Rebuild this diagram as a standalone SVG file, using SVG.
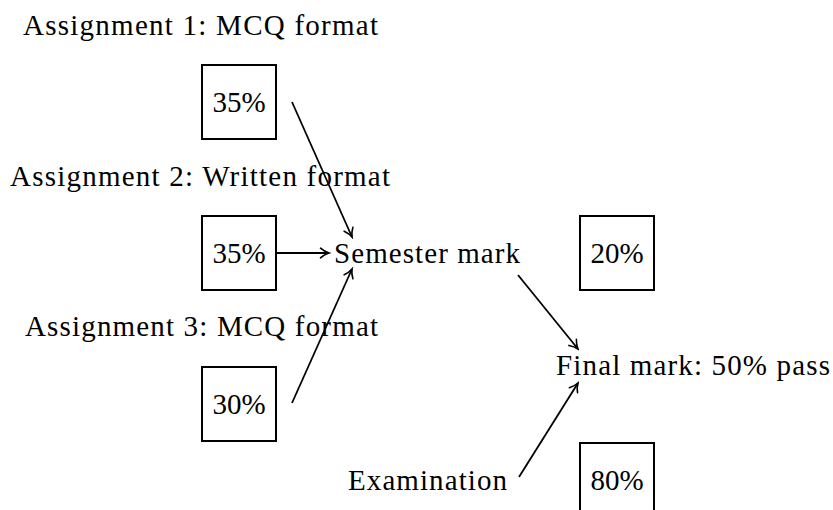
<svg xmlns="http://www.w3.org/2000/svg" width="833" height="510" viewBox="0 0 833 510">
<defs>
<style>
text{font-family:"Liberation Serif","Times New Roman",serif;font-size:29px;fill:#000}
.box{fill:none;stroke:#000;stroke-width:2}
.c{stroke:#000;stroke-width:1.8;fill:none}
.mid{text-anchor:middle}
</style>
<marker id="ah" viewBox="-10 -6 12 12" markerWidth="12" markerHeight="12" refX="0" refY="0" orient="auto" markerUnits="userSpaceOnUse">
<path d="M-8.5,-4.8 C-5.5,-2.2 -2.2,-0.6 0,0 C-2.2,0.6 -5.5,2.2 -8.5,4.8" fill="none" stroke="#000" stroke-width="1.6" stroke-linecap="round"/>
</marker>
</defs>
<rect width="833" height="510" fill="#fff"/>
<g id="a1"><text x="23" y="35" textLength="355">Assignment 1: MCQ format</text></g>
<g id="b1"><rect class="box" x="202" y="65" width="74" height="74"/><text class="mid" x="239" y="112">35%</text></g>
<g id="a2"><text x="10" y="186" textLength="380">Assignment 2: Written format</text></g>
<g id="b2"><rect class="box" x="202" y="216" width="74" height="74"/><text class="mid" x="239" y="263">35%</text></g>
<g id="a3"><text x="25" y="336" textLength="353">Assignment 3: MCQ format</text></g>
<g id="b3"><rect class="box" x="202" y="367" width="74" height="74"/><text class="mid" x="239" y="414">30%</text></g>
<g id="sem"><text x="334" y="263" textLength="186">Semester mark</text></g>
<g id="b20"><rect class="box" x="580" y="216" width="74" height="74"/><text class="mid" x="617" y="263">20%</text></g>
<g id="fin"><text x="556" y="375" textLength="274">Final mark: 50% pass</text></g>
<g id="exam"><text x="348" y="490" textLength="159">Examination</text></g>
<g id="b80"><rect class="box" x="580" y="443" width="74" height="74"/><text class="mid" x="617" y="490">80%</text></g>
<g id="connectors">
<path class="c" d="M292,102 L352,237" marker-end="url(#ah)"/>
<path class="c" d="M277,253 L329,253" marker-end="url(#ah)"/>
<path class="c" d="M292,403 L352,269" marker-end="url(#ah)"/>
<path class="c" d="M518,275 L578,349" marker-end="url(#ah)"/>
<path class="c" d="M519,477 L578,383" marker-end="url(#ah)"/>
</g>
</svg>
